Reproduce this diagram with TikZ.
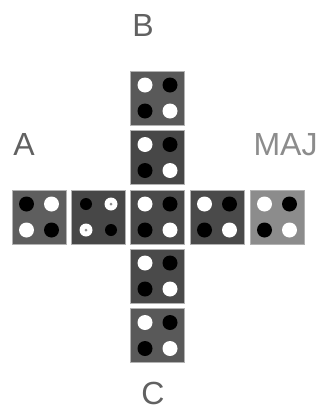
\documentclass[tikz,border=0pt]{standalone}
\usepackage{fontspec}
\setmainfont{Liberation Sans}
\usetikzlibrary{calc}
\begin{document}
\begin{tikzpicture}[x=1pt,y=-1pt,
  tile/.style={draw=black!30, line width=0.8pt, minimum size=54pt, inner sep=0pt, outer sep=0pt},
  lbl/.style={anchor=base, inner sep=0pt, font=\fontsize{32}{32}\selectfont},
  bdot/.style={fill=black},
  wdot/.style={fill=white}]
\useasboundingbox[fill=white] (0,0) rectangle (320,410);
% tiles
\node[tile, fill=black!63] (a)  at (39,217) {};
\node[tile, fill=black!72] (h2) at (98.5,217) {};
\node[tile, fill=black!71] (c0) at (157.5,217) {};
\node[tile, fill=black!71] (h4) at (217,217) {};
\node[tile, fill=black!45] (m)  at (277,217) {};
\node[tile, fill=black!65] (b1) at (157.5,98) {};
\node[tile, fill=black!72] (b2) at (157.5,157.5) {};
\node[tile, fill=black!71] (c1) at (157.5,276) {};
\node[tile, fill=black!65] (c2) at (157.5,335.5) {};
% dots: pattern W B / B W
\foreach \n in {c0,h4,m,b1,b2,c1,c2}{
  \fill[wdot] ($(\n.center)+(-12.5,-13)$) circle (7.5);
  \fill[bdot] ($(\n.center)+(12.5,-13)$) circle (7.5);
  \fill[bdot] ($(\n.center)+(-12.5,13)$) circle (7.5);
  \fill[wdot] ($(\n.center)+(12.5,13)$) circle (7.5);
}
% A tile: B W / W B
\fill[bdot] ($(a.center)+(-12.5,-13)$) circle (7.5);
\fill[wdot] ($(a.center)+(12.5,-13)$) circle (7.5);
\fill[wdot] ($(a.center)+(-12.5,13)$) circle (7.5);
\fill[bdot] ($(a.center)+(12.5,13)$) circle (7.5);
% second tile: smaller dots, white ones with centre
\fill[bdot] ($(h2.center)+(-12.5,-13)$) circle (6);
\fill[wdot] ($(h2.center)+(12.5,-13)$) circle (6.5);
\fill[black!45] ($(h2.center)+(12.5,-13)$) circle (1.5);
\fill[wdot] ($(h2.center)+(-12.5,13)$) circle (6.5);
\fill[black!45] ($(h2.center)+(-12.5,13)$) circle (1.5);
\fill[bdot] ($(h2.center)+(12.5,13)$) circle (6);
% labels
\node[lbl, text=black!62] (la) at (24,155) {A};
\node[lbl, text=black!45] (lm) at (285.5,155) {MAJ};
\node[lbl, text=black!62] (lb) at (143,36) {B};
\node[lbl, text=black!62] (lc) at (153,404) {C};
\end{tikzpicture}
\end{document}
